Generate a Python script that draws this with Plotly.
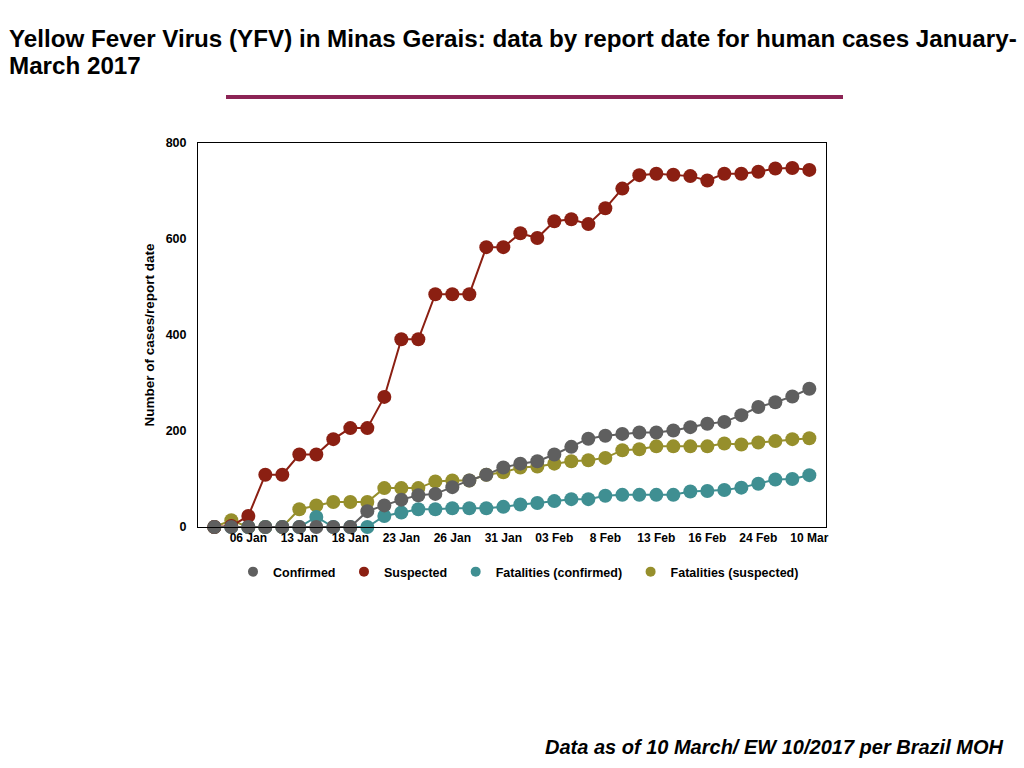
import plotly.graph_objects as go

dates = ["04 Jan", "05 Jan", "06 Jan", "09 Jan", "10 Jan", "13 Jan", "16 Jan", "17 Jan",
         "18 Jan", "19 Jan", "20 Jan", "23 Jan", "24 Jan", "25 Jan", "26 Jan", "27 Jan",
         "30 Jan", "31 Jan", "01 Feb", "02 Feb", "03 Feb", "06 Feb", "07 Feb", "8 Feb",
         "09 Feb", "10 Feb", "13 Feb", "14 Feb", "15 Feb", "16 Feb", "17 Feb", "21 Feb",
         "24 Feb", "01 Mar", "03 Mar", "10 Mar"]
tick_labels = ["06 Jan", "13 Jan", "18 Jan", "23 Jan", "26 Jan", "31 Jan", "03 Feb",
               "8 Feb", "13 Feb", "16 Feb", "24 Feb", "10 Mar"]

confirmed = [0, 0, 0, 0, 0, 0, 0, 0, 0, 33, 45, 57, 66, 69, 83, 97, 109, 124,
             132, 137, 151, 167, 184, 190, 194, 197, 197, 201, 208, 215, 219, 233,
             250, 260, 272, 288]
suspected = [0, 2, 23, 109, 109, 151, 151, 183, 206, 206, 271, 391, 391, 485, 485, 485,
             583, 583, 612, 602, 637, 641, 631, 664, 705, 733, 736, 734, 731, 722, 736,
             736, 740, 747, 748, 744]
fat_confirmed = [0, 0, 0, 0, 0, 0, 21, 0, 0, 0, 23, 30, 37, 37, 39, 39, 39, 42,
                 47, 50, 54, 58, 58, 65, 67, 67, 67, 67, 74, 75, 77, 82, 90, 99, 100, 108]
fat_suspected = [0, 14, 0, 0, 0, 37, 45, 52, 52, 52, 81, 81, 81, 95, 97, 97, 109, 114,
                 124, 126, 132, 137, 139, 144, 160, 162, 168, 168, 168, 168, 174, 172,
                 176, 179, 183, 185]

title_lines = ["Yellow Fever Virus (YFV) in Minas Gerais: data by report date for human cases January-",
               "March 2017"]
footer = "Data as of 10 March/ EW 10/2017 per Brazil MOH"

series = [
    ("Fatalities (suspected)", fat_suspected, "#968F2C"),
    ("Fatalities (confirmed)", fat_confirmed, "#3F8F92"),
    ("Suspected", suspected, "#8B1F12"),
    ("Confirmed", confirmed, "#5F5F5F"),
]
legend_order = ["Confirmed", "Suspected", "Fatalities (confirmed)", "Fatalities (suspected)"]
colors = {name: c for name, _, c in series}

fig = go.Figure()
for name, vals, color in series:
    fig.add_trace(go.Scatter(
        x=dates, y=vals, mode="lines+markers", name=name, showlegend=False,
        line=dict(color=color, width=2),
        marker=dict(color=color, size=14),
        cliponaxis=False,
    ))
for name in legend_order:
    fig.add_trace(go.Scatter(
        x=[None], y=[None], mode="markers", name="<b>%s</b>&nbsp;" % name,
        marker=dict(color=colors[name], size=10),
    ))

font = "Liberation Sans, Arial, sans-serif"
L, R, T, B = 198, 826, 143, 527


def px(xp):
    return (xp - L) / (R - L)


def py(yp):
    return (B - yp) / (B - T)


fig.update_layout(
    width=1024, height=768,
    margin=dict(l=L, r=1024 - R, t=T, b=768 - B),
    paper_bgcolor="white", plot_bgcolor="white",
    font=dict(family=font, color="black"),
    xaxis=dict(
        type="category", categoryorder="array", categoryarray=dates,
        range=[-0.96, 35.98],
        tickmode="array", tickvals=tick_labels, ticktext=["<b>%s</b>" % t for t in tick_labels],
        tickfont=dict(family=font, size=12, color="black"),
        showgrid=False, zeroline=False,
        showline=True, linecolor="black", linewidth=1, mirror=True,
        ticks="",
    ),
    yaxis=dict(
        range=[0, 800], dtick=200, tickformat="d",
        tickfont=dict(family=font, size=12.5, color="black"),
        tickprefix="<b>", ticksuffix="</b>",
        ticklabelstandoff=8,
        showgrid=False, zeroline=False,
        showline=True, linecolor="black", linewidth=1, mirror=True,
        ticks="outside", ticklen=0,
        title=dict(text="<b>Number of cases/report date</b>",
                   font=dict(family=font, size=13.5, color="black"), standoff=7),
    ),
    legend=dict(
        orientation="h", x=px(233), xanchor="left",
        y=py(572), yanchor="middle",
        font=dict(family=font, size=12.5, color="black"),
        traceorder="normal", itemwidth=30,
    ),
    shapes=[dict(
        type="line", xref="paper", yref="paper",
        x0=px(226), x1=px(843), y0=py(97), y1=py(97),
        line=dict(color="#8C2455", width=4),
    )],
    annotations=[
        dict(
            text="<b>%s</b>" % title_lines[0], xref="paper", yref="paper",
            x=px(7), y=py(38), xanchor="left", yanchor="middle", showarrow=False,
            font=dict(family=font, size=24.2, color="black"),
        ),
        dict(
            text="<b>%s</b>" % title_lines[1], xref="paper", yref="paper",
            x=px(7), y=py(65), xanchor="left", yanchor="middle", showarrow=False,
            font=dict(family=font, size=24.2, color="black"),
        ),
        dict(
            text="<b><i>%s</i></b>" % footer, xref="paper", yref="paper",
            x=px(1006), y=py(747), xanchor="right", yanchor="middle", showarrow=False,
            font=dict(family=font, size=20, color="black"),
        ),
    ],
)

fig.write_html("out.html", config={"displayModeBar": False},
               post_script="document.body.style.margin='0';document.body.style.overflow='hidden';")
